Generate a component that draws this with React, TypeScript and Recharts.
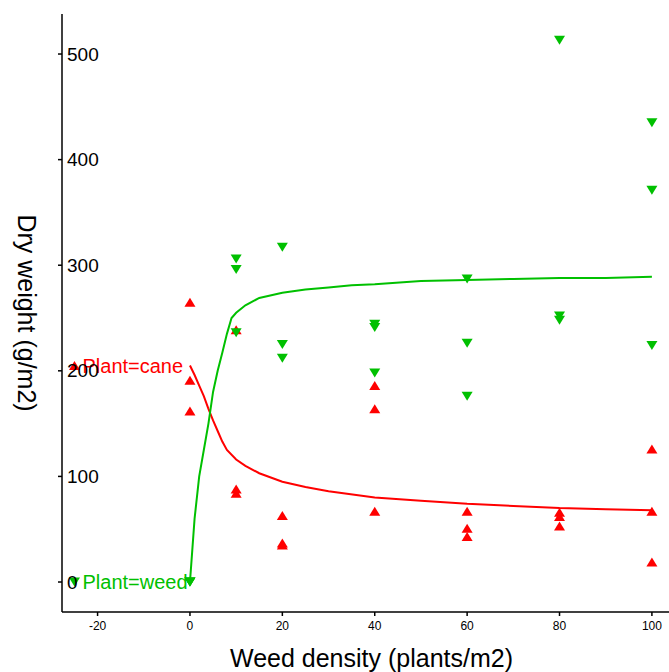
import React from 'react';
import { ScatterChart, Scatter, XAxis, YAxis } from 'recharts';

const RED = '#ff0000';
const GREEN = '#00c000';
const FONT = '"Liberation Sans", Arial, sans-serif';

const xTicks = [-20, 0, 20, 40, 60, 80, 100];
const yTicks = [0, 100, 200, 300, 400, 500];

const caneObs = [
  { x: 0, y: 265 }, { x: 0, y: 191 }, { x: 0, y: 162 },
  { x: 10, y: 239 }, { x: 10, y: 88 }, { x: 10, y: 84 },
  { x: 20, y: 63 }, { x: 20, y: 37 }, { x: 20, y: 35 },
  { x: 40, y: 186 }, { x: 40, y: 164 }, { x: 40, y: 67 },
  { x: 60, y: 67 }, { x: 60, y: 51 }, { x: 60, y: 43 },
  { x: 80, y: 66 }, { x: 80, y: 62 }, { x: 80, y: 53 },
  { x: 100, y: 126 }, { x: 100, y: 67 }, { x: 100, y: 19 },
];

const weedObs = [
  { x: 0, y: 0 }, { x: 0, y: 0 }, { x: 0, y: 0 },
  { x: 10, y: 306 }, { x: 10, y: 296 }, { x: 10, y: 236 },
  { x: 20, y: 317 }, { x: 20, y: 225 }, { x: 20, y: 212 },
  { x: 40, y: 244 }, { x: 40, y: 241 }, { x: 40, y: 198 },
  { x: 60, y: 287 }, { x: 60, y: 226 }, { x: 60, y: 176 },
  { x: 80, y: 513 }, { x: 80, y: 252 }, { x: 80, y: 248 },
  { x: 100, y: 435 }, { x: 100, y: 371 }, { x: 100, y: 224 },
];

const caneFit = [
  { x: 0, y: 205 }, { x: 1, y: 196 }, { x: 2, y: 186 }, { x: 3, y: 176 },
  { x: 4, y: 164 }, { x: 5, y: 153 }, { x: 6, y: 143 }, { x: 7, y: 133 },
  { x: 8, y: 125 }, { x: 10, y: 116 }, { x: 12, y: 110 }, { x: 15, y: 103 },
  { x: 20, y: 95 }, { x: 25, y: 90 }, { x: 30, y: 86 }, { x: 40, y: 80 },
  { x: 50, y: 77 }, { x: 60, y: 74 }, { x: 70, y: 72 }, { x: 80, y: 70 },
  { x: 90, y: 69 }, { x: 100, y: 68 },
];

const weedFit = [
  { x: 0, y: 0 }, { x: 0.5, y: 30 }, { x: 1, y: 60 }, { x: 2, y: 100 },
  { x: 3, y: 125 }, { x: 4, y: 150 }, { x: 5, y: 180 }, { x: 6, y: 200 },
  { x: 7, y: 217 }, { x: 8, y: 235 }, { x: 9, y: 250 }, { x: 10, y: 255 },
  { x: 12, y: 262 }, { x: 15, y: 269 }, { x: 20, y: 274 }, { x: 25, y: 277 },
  { x: 30, y: 279 }, { x: 35, y: 281 }, { x: 40, y: 282 }, { x: 50, y: 285 },
  { x: 60, y: 286 }, { x: 70, y: 287 }, { x: 80, y: 288 }, { x: 90, y: 288 },
  { x: 100, y: 289 },
];

const caneKey = [{ x: -25, y: 205, label: 'Plant=cane' }];
const weedKey = [{ x: -25, y: 0, label: 'Plant=weed' }];

const UpTri = (color: string) => (p: any) => {
  const { cx, cy } = p;
  if (cx == null || cy == null) return <g />;
  return <polygon points={`${cx - 5.5},${cy + 4.5} ${cx + 5.5},${cy + 4.5} ${cx},${cy - 4.5}`} fill={color} />;
};
const DownTri = (color: string) => (p: any) => {
  const { cx, cy } = p;
  if (cx == null || cy == null) return <g />;
  return <polygon points={`${cx - 5.5},${cy - 4.5} ${cx + 5.5},${cy - 4.5} ${cx},${cy + 4.5}`} fill={color} />;
};
const KeyShape = (color: string, up: boolean) => (p: any) => {
  const { cx, cy, payload } = p;
  if (cx == null || cy == null) return <g />;
  const pts = up
    ? `${cx - 5.5},${cy + 4.5} ${cx + 5.5},${cy + 4.5} ${cx},${cy - 4.5}`
    : `${cx - 5.5},${cy - 4.5} ${cx + 5.5},${cy - 4.5} ${cx},${cy + 4.5}`;
  return (
    <g>
      <polygon points={pts} fill={color} />
      <text x={cx + 8} y={cy} dominantBaseline="central" fill={color} fontSize={20} fontFamily={FONT}>
        {payload.label}
      </text>
    </g>
  );
};
const Empty = () => <g />;

const YTick = (p: any) => (
  <text x={p.x + 11} y={p.y} dominantBaseline="central" textAnchor="start" fontSize={19} fontFamily={FONT} fill="#000">
    {p.payload.value}
  </text>
);
const XTick = (p: any) => (
  <text x={p.x} y={p.y + 12} textAnchor="middle" fontSize={12} fontFamily={FONT} fill="#000">
    {p.payload.value}
  </text>
);

const YTitle = (p: any) => {
  const vb = p.viewBox || {};
  const cx = (vb.x || 0) + 27;
  const cy = (vb.y || 0) + (vb.height || 0) / 2;
  return (
    <text x={cx} y={cy} transform={`rotate(90, ${cx}, ${cy})`} textAnchor="middle" dominantBaseline="central" fontSize={25} fontFamily={FONT} fill="#000">
      Dry weight (g/m2)
    </text>
  );
};
const XTitle = (p: any) => {
  const vb = p.viewBox || {};
  const cx = (vb.x || 0) + (vb.width || 0) / 2 + 6;
  const cy = (vb.y || 0) + 55;
  return (
    <text x={cx} y={cy} textAnchor="middle" fontSize={25} fontFamily={FONT} fill="#000">
      Weed density (plants/m2)
    </text>
  );
};

export default function App() {
  return (
    <div style={{ position: 'absolute', left: 0, top: 0, background: '#fff' }}>
      <ScatterChart width={669} height={672} margin={{ top: 14, right: 0, bottom: 0, left: 0 }}>
        <XAxis
          type="number"
          dataKey="x"
          domain={[-27.7, 103.7]}
          ticks={xTicks}
          allowDataOverflow
          height={60}
          tickSize={4}
          tick={<XTick />}
          axisLine={{ stroke: '#000', strokeWidth: 1.5 }}
          tickLine={{ stroke: '#000', strokeWidth: 1.5 }}
          label={<XTitle />}
        />
        <YAxis
          type="number"
          dataKey="y"
          domain={[-28.4, 537.9]}
          ticks={yTicks}
          allowDataOverflow
          width={62}
          tickSize={4}
          tickMargin={2}
          tick={<YTick />}
          axisLine={{ stroke: '#000', strokeWidth: 1.5 }}
          tickLine={{ stroke: '#000', strokeWidth: 1.5 }}
          label={<YTitle />}
        />
        <Scatter data={caneFit} line={{ stroke: RED, strokeWidth: 2 }} shape={Empty} isAnimationActive={false} />
        <Scatter data={weedFit} line={{ stroke: GREEN, strokeWidth: 2 }} shape={Empty} isAnimationActive={false} />
        <Scatter data={caneObs} shape={UpTri(RED)} isAnimationActive={false} />
        <Scatter data={weedObs} shape={DownTri(GREEN)} isAnimationActive={false} />
        <Scatter data={caneKey} shape={KeyShape(RED, true)} isAnimationActive={false} />
        <Scatter data={weedKey} shape={KeyShape(GREEN, false)} isAnimationActive={false} />
      </ScatterChart>
    </div>
  );
}
